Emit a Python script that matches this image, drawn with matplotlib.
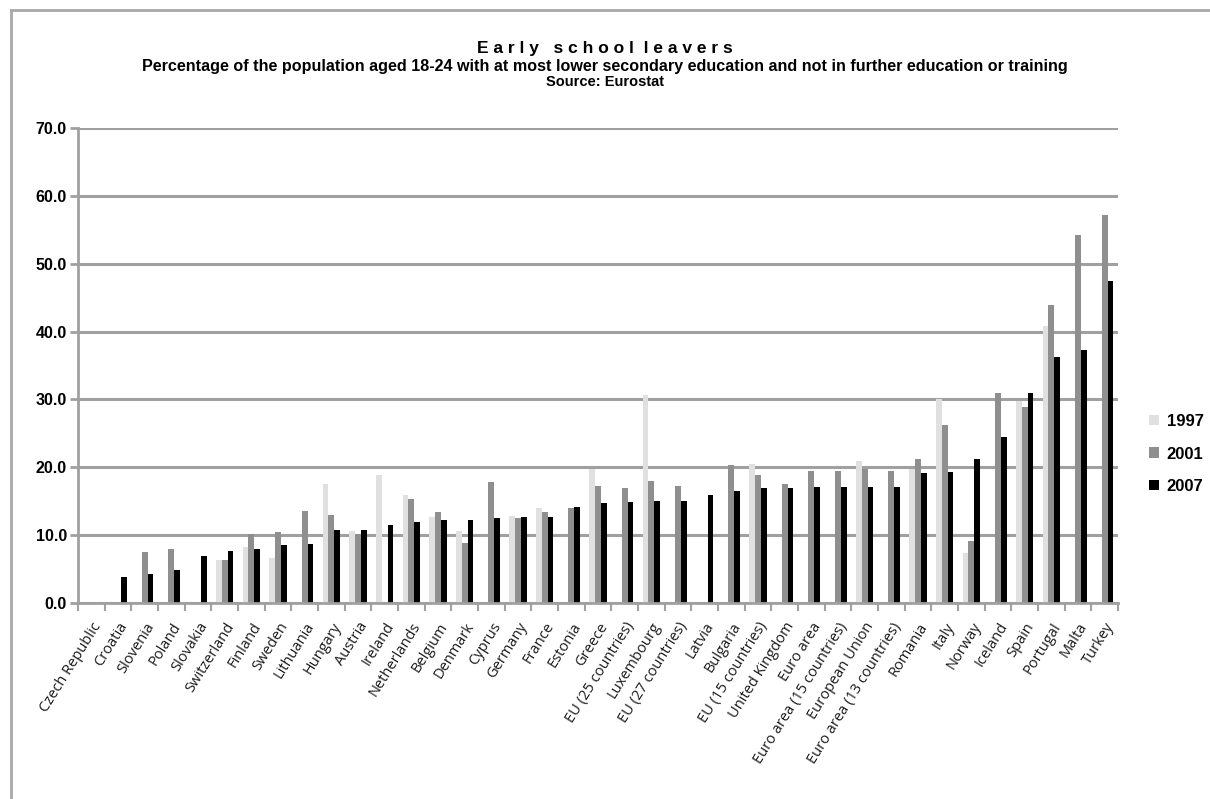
import numpy as np
import matplotlib
matplotlib.use("Agg")
import matplotlib.pyplot as plt
from matplotlib.lines import Line2D
from matplotlib.font_manager import fontManager

nan = np.nan

countries = [
    "Czech Republic", "Croatia", "Slovenia", "Poland", "Slovakia", "Switzerland",
    "Finland", "Sweden", "Lithuania", "Hungary", "Austria", "Ireland",
    "Netherlands", "Belgium", "Denmark", "Cyprus", "Germany", "France",
    "Estonia", "Greece", "EU (25 countries)", "Luxembourg", "EU (27 countries)",
    "Latvia", "Bulgaria", "EU (15 countries)", "United Kingdom", "Euro area",
    "Euro area (15 countries)", "European Union", "Euro area (13 countries)",
    "Romania", "Italy", "Norway", "Iceland", "Spain", "Portugal", "Malta", "Turkey",
]

v1997 = [nan, nan, nan, nan, nan, 6.4, 8.2, 6.6, nan, 17.6, 10.6, 18.9,
         15.9, 12.7, 10.6, nan, 12.8, 14.0, nan, 19.7, nan, 30.7, nan,
         nan, nan, 20.5, nan, nan, nan, 21.0, nan,
         19.7, 30.1, 7.4, nan, 29.8, 40.8, nan, nan]

v2001 = [nan, nan, 7.5, 7.9, nan, 6.4, 10.2, 10.4, 13.6, 12.9, 10.1, nan,
         15.3, 13.4, 8.9, 17.8, 12.5, 13.4, 14.0, 17.2, 16.9, 18.0, 17.2,
         nan, 20.3, 18.9, 17.6, 19.5, 19.5, 19.7, 19.5,
         21.2, 26.3, 9.1, 30.9, 28.9, 43.9, 54.3, 57.2]

v2007 = [nan, 3.9, 4.3, 4.9, 7.0, 7.6, 7.9, 8.6, 8.7, 10.8, 10.8, 11.5,
         11.9, 12.3, 12.3, 12.5, 12.7, 12.7, 14.2, 14.7, 14.9, 15.1, 15.1,
         15.9, 16.5, 16.9, 16.9, 17.1, 17.1, 17.1, 17.1,
         19.1, 19.3, 21.2, 24.4, 30.9, 36.2, 37.3, 47.5]

series_labels = ["1997", "2001", "2007"]
series_colors = ["#e0e0e0", "#8f8f8f", "#000000"]

yticks = [0, 10, 20, 30, 40, 50, 60, 70]

names = {f.name for f in fontManager.ttflist}
narrow = "Liberation Sans Narrow" if "Liberation Sans Narrow" in names else "Liberation Sans"

W, H = 1210, 799
fig = plt.figure(figsize=(W / 100, H / 100), dpi=100)

# chart frame (left and top edges only)
fig.add_artist(Line2D([11 / W, 11 / W], [0, 1 - 10 / H], transform=fig.transFigure,
                      color="#a8a8a8", lw=2))
fig.add_artist(Line2D([11 / W, 1], [1 - 10 / H, 1 - 10 / H], transform=fig.transFigure,
                      color="#a8a8a8", lw=2))

ax = fig.add_axes([78 / W, 1 - 603 / H, (1118 - 78) / W, (603 - 128) / H])

n = len(countries)
x = np.arange(n)
bw = 0.215
for k, (vals, col, lab) in enumerate(zip([v1997, v2001, v2007], series_colors, series_labels)):
    ax.bar(x + (k - 1) * bw, vals, width=bw, color=col, label=lab, zorder=3)

ax.set_xlim(-0.5, n - 0.5)
ax.set_ylim(0, 70)
ax.set_yticks(yticks)
ax.set_yticklabels([f"{t:.1f}" for t in yticks], fontfamily=narrow,
                   fontweight="bold", fontsize=11.5)
ax.yaxis.grid(True, color="#a0a0a0", lw=2.2, zorder=0)
ax.set_axisbelow(True)

for s in ["top", "right"]:
    ax.spines[s].set_visible(False)
for s in ["left", "bottom"]:
    ax.spines[s].set_color("#a0a0a0")
    ax.spines[s].set_linewidth(2)
    ax.spines[s].set_zorder(4)

ax.tick_params(axis="y", length=6, width=2, color="#a0a0a0", pad=2)

# category ticks sit between groups
ax.set_xticks(np.arange(-0.5, n, 1.0), minor=False)
ax.set_xticklabels([])
ax.tick_params(axis="x", which="major", length=6, width=1.5, color="#a0a0a0")
ax.set_xticks(x, minor=True)
ax.set_xticklabels(countries, minor=True, rotation=58, ha="right",
                   rotation_mode="anchor", fontsize=10.5, fontfamily="Open Sans",
                   color="#1a1a1a")
ax.tick_params(axis="x", which="minor", length=0, pad=12)

fig.text(0.5, 1 - 48 / H, "E a r l y   s c h o o l  l e a v e r s", ha="center",
         va="center", fontsize=12.5, fontweight="bold", fontfamily=narrow)
fig.text(0.5, 1 - 67 / H,
         "Percentage of the population aged 18-24 with at most lower secondary education and not in further education or training",
         ha="center", va="center", fontsize=11.6, fontfamily=narrow, fontweight="bold")
fig.text(0.5, 1 - 82 / H, "Source: Eurostat", ha="center", va="center",
         fontsize=10.5, fontfamily=narrow, fontweight="bold")

leg = fig.legend(loc="center left", bbox_to_anchor=(1149 / W, 1 - 454 / H), frameon=False,
                 borderaxespad=0, borderpad=0,
                 handlelength=0.6, handleheight=0.6, handletextpad=0.45,
                 labelspacing=1.05, prop={"family": narrow, "weight": "bold", "size": 12})

fig.savefig("out.png", dpi=100)
